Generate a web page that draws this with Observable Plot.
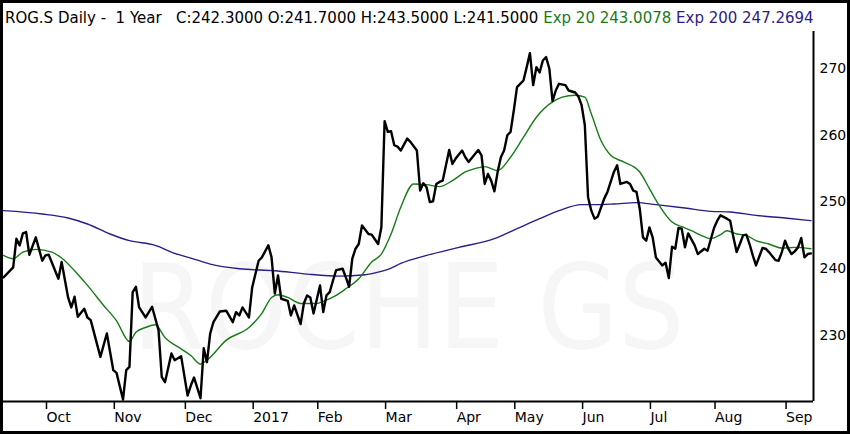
<!DOCTYPE html>
<html><head><meta charset="utf-8">
<script src="https://cdn.jsdelivr.net/npm/d3@7"></script>
<script src="https://cdn.jsdelivr.net/npm/@observablehq/plot@0.6"></script>
<style>
html,body{margin:0;padding:0;background:#fff;}
#wrap{width:850px;height:434px;box-sizing:border-box;border:3px solid #000;background:#fff;overflow:hidden;}
#title{height:27px;line-height:30px;padding-left:2px;font-family:"DejaVu Sans";font-size:15px;white-space:pre;color:#000;}
#chart svg{display:block;}
</style></head><body>
<div id="wrap"><div id="title"></div><div id="chart"></div></div>
<script>
const titleParts = [
  {text: "ROG.S Daily -  1 Year   C:242.3000 O:241.7000 H:243.5000 L:241.5000 ", color: "#000"},
  {text: "Exp 20 243.0078", color: "#187a18"},
  {text: " Exp 200 247.2694", color: "#2e1b84"}
];
const monthDays = [13, 34, 56, 77, 97, 118, 140, 158, 179, 200, 220, 242];
const monthLabels = ["Oct","Nov","Dec","2017","Feb","Mar","Apr","May","Jun","Jul","Aug","Sep"];
const yTicks = [230, 240, 250, 260, 270];
const watermark = ["ROCHE GS"];

// [trading-day index, close]
const closes = [[0,238.7],[3,240.2],[4,244.5],[5,243.5],[6,245.3],[7,245.5],[8,242.1],[10,244.7],[12,241.2],[13,242.0],[14,242.1],[16,239.7],[17,238.5],[18,241.0],[20,235.7],[21,234.2],[22,235.8],[23,232.8],[25,234.0],[26,232.7],[27,232.3],[30,226.8],[32,230.3],[34,224.8],[35,224.4],[37,220.4],[38,224.8],[39,225.3],[40,236.5],[41,237.3],[42,234.2],[44,232.7],[46,234.3],[48,230.8],[49,223.8],[50,223.0],[52,227.3],[53,226.3],[55,226.9],[57,221.0],[58,222.5],[59,223.7],[61,220.6],[62,228.1],[63,226.0],[64,230.3],[65,232.0],[67,233.6],[69,233.7],[71,232.0],[72,233.5],[73,233.0],[74,234.2],[76,232.7],[77,237.2],[79,241.2],[80,241.7],[82,243.5],[83,241.7],[84,236.3],[85,239.0],[86,235.5],[88,235.2],[89,233.0],[90,234.5],[92,231.7],[93,234.8],[94,236.0],[95,235.7],[96,233.3],[98,237.5],[99,233.5],[100,236.0],[101,236.5],[102,238.2],[103,239.8],[105,240.0],[106,238.7],[107,237.3],[108,241.5],[109,243.0],[110,243.7],[111,246.5],[113,245.2],[114,245.1],[116,243.7],[117,246.2],[118,262.1],[119,260.5],[120,260.6],[121,258.5],[122,258.3],[123,257.7],[125,259.5],[126,259.0],[128,257.7],[129,251.7],[130,252.8],[131,252.2],[132,250.0],[133,250.1],[134,252.7],[135,253.0],[136,253.2],[138,257.8],[139,255.7],[140,256.5],[142,257.7],[143,256.7],[144,256.0],[146,257.2],[147,257.8],[148,257.0],[149,252.7],[150,254.2],[151,253.2],[152,251.6],[153,254.5],[154,256.7],[155,257.7],[156,260.0],[157,260.5],[158,263.7],[159,267.2],[161,268.2],[162,270.2],[163,272.3],[164,267.5],[165,270.2],[166,269.4],[167,271.2],[168,271.7],[169,270.0],[170,265.1],[171,266.7],[172,267.7],[174,267.5],[175,266.7],[177,266.4],[178,265.8],[179,264.5],[180,261.5],[181,250.7],[182,248.7],[183,247.5],[184,247.8],[186,250.5],[187,251.5],[189,254.5],[190,255.5],[191,252.7],[193,253.0],[194,252.7],[195,251.7],[196,251.5],[197,249.0],[198,244.7],[199,244.2],[200,246.2],[201,244.7],[202,241.7],[204,240.5],[205,240.9],[206,238.6],[207,243.3],[208,243.0],[209,246.1],[210,246.0],[211,243.2],[212,245.3],[214,243.5],[215,242.2],[217,243.0],[218,242.7],[220,246.1],[221,247.2],[222,248.0],[224,247.5],[225,247.2],[226,244.7],[227,242.5],[228,243.7],[229,245.0],[230,245.1],[231,243.7],[232,242.0],[233,240.5],[235,243.1],[236,243.0],[237,242.5],[239,241.3],[240,241.2],[241,242.5],[242,244.2],[243,243.0],[244,242.2],[245,242.6],[246,243.2],[247,244.6],[248,241.7],[249,242.2],[250,242.3]];

const ema20 = [[0,242.0],[3,241.5],[6,242.5],[10,242.9],[15,242.5],[18,241.6],[22,239.7],[26,237.5],[31,234.5],[35,232.2],[39,229.1],[41,230.5],[44,231.2],[47,231.6],[50,229.7],[55,228.0],[58,227.0],[61,225.7],[63,226.3],[69,229.3],[76,231.2],[80,233.3],[83,235.7],[85,236.1],[88,235.7],[92,234.8],[97,234.8],[99,235.1],[103,236.0],[106,237.0],[110,238.5],[114,241.0],[117,242.2],[120,245.2],[123,249.2],[127,252.7],[131,252.6],[135,252.3],[139,253.2],[143,254.5],[146,255.0],[149,255.3],[153,254.7],[157,256.7],[161,259.7],[165,262.7],[170,265.0],[173,265.7],[177,266.0],[180,265.7],[182,263.2],[185,259.2],[188,257.0],[192,256.0],[197,254.5],[200,252.0],[203,249.5],[207,247.0],[210,246.3],[213,245.7],[216,245.0],[219,244.5],[222,245.1],[224,245.7],[227,245.2],[230,245.0],[233,244.2],[237,243.7],[241,243.1],[245,243.2],[250,243.0]];

const ema200 = [[0,248.7],[12,248.2],[20,247.6],[26,246.7],[33,245.2],[39,244.2],[47,243.5],[53,242.3],[58,241.6],[64,240.7],[73,240.0],[84,239.7],[94,239.2],[104,238.9],[112,239.1],[116,239.5],[120,240.1],[123,240.8],[131,242.0],[141,243.2],[152,244.5],[159,246.0],[166,247.5],[172,248.7],[179,249.6],[183,249.6],[189,249.7],[196,249.9],[202,249.6],[211,249.1],[219,248.6],[225,248.5],[233,248.0],[242,247.6],[250,247.2]];

const title = document.getElementById("title");
titleParts.forEach(p => {
  const s = document.createElement("span");
  s.textContent = p.text; s.style.color = p.color; title.appendChild(s);
});

const xDomain = [0, 250.8];
const yDomain = [220.11, 275.54];
const green = "#187a18", navy = "#2e1b84";

const chart = Plot.plot({
  width: 844, height: 401,
  marginLeft: 0, marginRight: 34, marginTop: 1, marginBottom: 30,
  x: {domain: xDomain},
  y: {domain: yDomain},
  style: {fontFamily: "DejaVu Sans", fontSize: "14px", color: "#000", background: "#fff", overflow: "visible"},
  marks: [
    Plot.text(watermark, {text: d => d, frameAnchor: "middle", dy: 94, fontSize: 118, fill: "#f6f6f6", className: "wm"}),
    Plot.line(ema200, {x: d => d[0], y: d => d[1], stroke: navy, strokeWidth: 1.4, curve: "monotone-x"}),
    Plot.line(ema20, {x: d => d[0], y: d => d[1], stroke: green, strokeWidth: 1.4, curve: "monotone-x"}),
    Plot.line(closes, {x: d => d[0], y: d => d[1], stroke: "#000", strokeWidth: 2.4, strokeLinejoin: "round"}),
    Plot.ruleY([yDomain[0]], {stroke: "#000", strokeWidth: 2}),
    Plot.ruleX([xDomain[1]], {stroke: "#000", strokeWidth: 2}),
    Plot.axisY({anchor: "right", ticks: yTicks, tickSize: 0, tickPadding: 6, fontSize: 14, tickFormat: d => String(d)}),
    Plot.axisX({anchor: "bottom", ticks: monthDays, tickFormat: d => monthLabels[monthDays.indexOf(d)], tickSize: 8, tickPadding: 3, textAnchor: "start", dx: 1, fontSize: 14, strokeWidth: 1.5})
  ]
});
document.getElementById("chart").appendChild(chart);
d3.select(chart).selectAll(".wm text").attr("textLength", 552).attr("lengthAdjust", "spacingAndGlyphs");
</script></body></html>
